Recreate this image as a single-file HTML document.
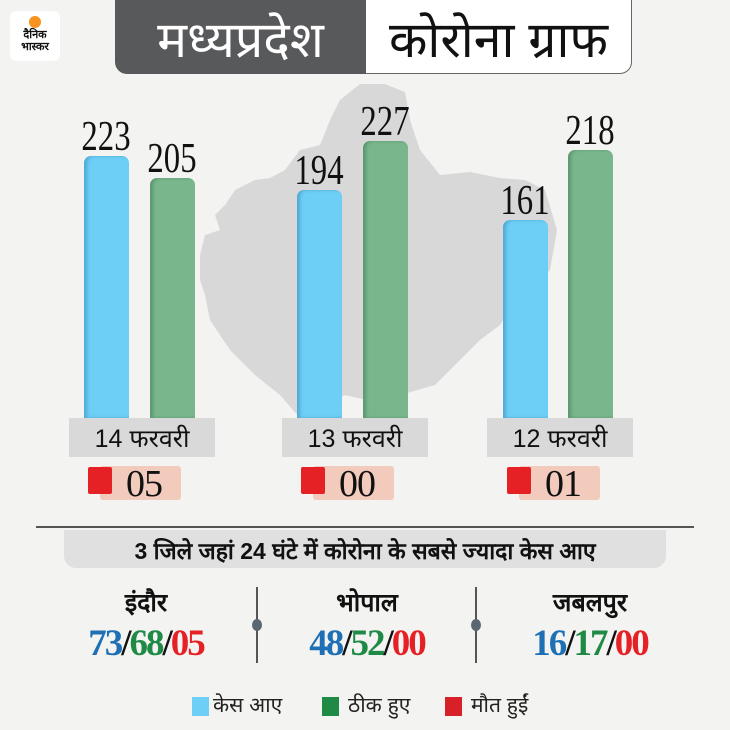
<!DOCTYPE html>
<html><head><meta charset="utf-8">
<style>
body{margin:0;}
#c{position:relative;width:730px;height:730px;background:#f3f3f1;overflow:hidden;font-family:"Liberation Sans",sans-serif;}
.a{position:absolute;}
.bar{position:absolute;border-radius:7px 7px 0 0;}
.b{background:#6dcff5;box-shadow:inset 3px 0 3px rgba(0,60,120,.25);}
.g{background:#7ab68c;box-shadow:inset 3px 0 3px rgba(0,60,30,.25);}
.num{position:absolute;width:80px;text-align:center;font-family:"Liberation Serif",serif;font-size:42px;line-height:42px;color:#111;transform:scaleX(.78);}
.lab{position:absolute;top:418px;height:39px;width:146px;background:#d9d9d9;text-align:center;font-size:25px;line-height:42px;color:#111;}
.red{position:absolute;top:467px;width:24px;height:27px;background:#e52126;border-radius:2px;}
.pink{position:absolute;top:466px;width:81px;height:34px;background:#f2cbbd;border-radius:3px;font-family:"Liberation Serif",serif;font-size:38px;line-height:36px;color:#111;padding-left:26px;box-sizing:border-box;letter-spacing:-1px;}
.city{position:absolute;top:585px;width:200px;text-align:center;font-size:25px;font-weight:bold;color:#111;}
.vals{position:absolute;top:622px;width:220px;text-align:center;font-family:"Liberation Serif",serif;font-weight:bold;font-size:37px;color:#111;letter-spacing:-2px;}
.bl{color:#1f6fb5}.gr{color:#1e8a45}.rd{color:#e52126}
.div{position:absolute;top:587px;width:2px;height:76px;background:#555;}
.dot{position:absolute;top:619px;width:10px;height:12px;border-radius:50%;background:#5a6670;}
.lg{position:absolute;top:697px;width:17px;height:19px;}
.lt{position:absolute;top:691px;font-size:21px;color:#222;}
</style></head><body>
<div id="c">
<svg class="a" style="left:0;top:0" width="730" height="730">
<polygon fill="#d8d8d9" points="200,255 205,235 220,230 215,215 225,205 235,190 255,180 270,178 285,170 300,150 320,145 330,120 340,100 360,84 385,84 405,92 410,120 420,150 440,175 470,172 500,178 525,180 545,190 557,230 550,270 535,285 515,300 500,325 480,340 460,360 435,385 400,395 375,402 345,395 320,410 300,418 280,395 255,375 230,350 210,320 205,295 200,280"/>
</svg>
<div class="a" style="left:10px;top:11px;width:50px;height:50px;background:#fff;border-radius:6px;"></div>
<div class="a" style="left:29px;top:16px;width:12px;height:12px;border-radius:50%;background:#f7931e;"></div>
<div class="a" style="left:10px;top:29px;width:50px;text-align:center;font-size:11px;font-weight:bold;line-height:12px;color:#111;">दैनिक<br>भास्कर</div>
<div class="a" style="left:115px;top:0;width:251px;height:74px;background:#58595b;border-radius:0 0 0 12px;color:#fff;font-size:50px;text-align:center;line-height:80px;">मध्यप्रदेश</div>
<div class="a" style="left:366px;top:0;width:265px;height:73px;background:#fff;border:1px solid #666;border-top:none;border-left:none;border-radius:0 0 12px 0;color:#111;font-size:50px;text-align:center;line-height:80px;">कोरोना ग्राफ</div>

<div class="bar b" style="left:84px;top:156px;width:45px;height:262px"></div>
<div class="bar g" style="left:150px;top:178px;width:45px;height:240px"></div>
<div class="bar b" style="left:297px;top:190px;width:45px;height:228px"></div>
<div class="bar g" style="left:363px;top:141px;width:45px;height:277px"></div>
<div class="bar b" style="left:503px;top:220px;width:45px;height:198px"></div>
<div class="bar g" style="left:568px;top:150px;width:45px;height:268px"></div>

<div class="num" style="left:66px;top:116px">223</div>
<div class="num" style="left:132px;top:138px">205</div>
<div class="num" style="left:279px;top:150px">194</div>
<div class="num" style="left:345px;top:101px">227</div>
<div class="num" style="left:485px;top:180px">161</div>
<div class="num" style="left:550px;top:110px">218</div>

<div class="lab" style="left:69px">14 फरवरी</div>
<div class="lab" style="left:282px">13 फरवरी</div>
<div class="lab" style="left:487px">12 फरवरी</div>

<div class="pink" style="left:100px">05</div><div class="red" style="left:88px"></div>
<div class="pink" style="left:313px">00</div><div class="red" style="left:301px"></div>
<div class="pink" style="left:519px">01</div><div class="red" style="left:507px"></div>

<div class="a" style="left:36px;top:526px;width:658px;height:2px;background:#555;"></div>
<div class="a" style="left:64px;top:530px;width:602px;height:38px;background:#e0e0e0;border-radius:0 0 12px 12px;text-align:center;font-size:23px;font-weight:bold;line-height:42px;color:#111;">3 जिले जहां 24 घंटे में कोरोना के सबसे ज्यादा केस आए</div>

<div class="city" style="left:46px">इंदौर</div>
<div class="city" style="left:267px">भोपाल</div>
<div class="city" style="left:490px">जबलपुर</div>
<div class="vals" style="left:36px"><span class="bl">73</span>/<span class="gr">68</span>/<span class="rd">05</span></div>
<div class="vals" style="left:257px"><span class="bl">48</span>/<span class="gr">52</span>/<span class="rd">00</span></div>
<div class="vals" style="left:480px"><span class="bl">16</span>/<span class="gr">17</span>/<span class="rd">00</span></div>
<div class="div" style="left:256px"></div><div class="dot" style="left:252px"></div>
<div class="div" style="left:475px"></div><div class="dot" style="left:471px"></div>

<div class="lg" style="left:192px;background:#6dcff5"></div><div class="lt" style="left:213px">केस आए</div>
<div class="lg" style="left:322px;background:#1e8a45"></div><div class="lt" style="left:348px">ठीक हुए</div>
<div class="lg" style="left:445px;background:#d72027"></div><div class="lt" style="left:471px">मौत हुईं</div>
</div>
</body></html>
